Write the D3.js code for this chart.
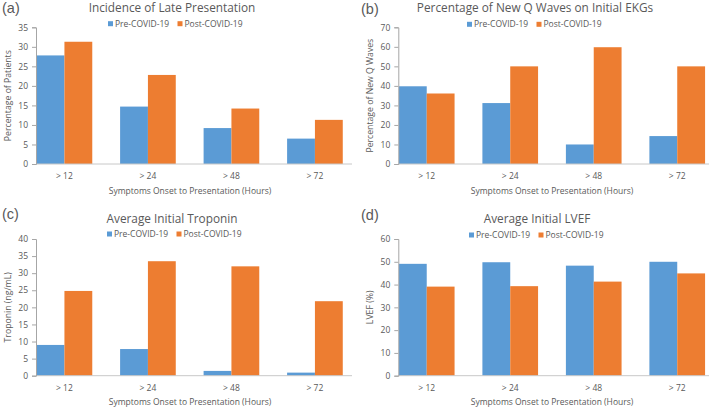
<!DOCTYPE html>
<html>
<head>
<meta charset="utf-8">
<script src="https://cdn.jsdelivr.net/npm/d3@7"></script>
<style>
  html, body { margin: 0; padding: 0; background: #fff; }
  svg text { font-family: "Open Sans", Lato, sans-serif; fill: #595959; }
</style>
</head>
<body>
<svg id="chart" width="709" height="409"></svg>
<script>
const categories = ["> 12", "> 24", "> 48", "> 72"];
const seriesNames = ["Pre-COVID-19", "Post-COVID-19"];
const seriesColors = ["#5B9BD5", "#ED7D31"];

const latePre = [27.8, 14.7, 9.2, 6.5];
const latePost = [31.3, 22.8, 14.2, 11.3];
const qWavePre = [39.8, 31.2, 10.0, 14.3];
const qWavePost = [36.1, 50.0, 59.8, 50.0];
const troponinPre = [9.0, 7.8, 1.4, 0.9];
const troponinPost = [24.8, 33.5, 32.0, 21.8];
const lvefPre = [49.1, 49.8, 48.3, 50.0];
const lvefPost = [39.1, 39.3, 41.3, 44.9];

const ticksA = [0, 5, 10, 15, 20, 25, 30, 35];
const ticksB = [0, 10, 20, 30, 40, 50, 60, 70];
const ticksC = [0, 5, 10, 15, 20, 25, 30, 35, 40];
const ticksD = [0, 10, 20, 30, 40, 50, 60];

const xTitle = "Symptoms Onset to Presentation (Hours)";

const panels = [
  { tag: "(a)", title: "Incidence of Late Presentation", yLabel: "Percentage of Patients",
    pre: latePre, post: latePost, ticks: ticksA,
    axisX: 36, yTop: 27.3, yBase: 164,
    titleX: 172, legendX: 108, legendY: 23.7, tagX: 2, tagY: 12.5,
    xTitleX: 190, yLabelX: 8, lineEnd: 352 },
  { tag: "(b)", title: "Percentage of New Q Waves on Initial EKGs", yLabel: "Percentage of New Q Waves",
    pre: qWavePre, post: qWavePost, ticks: ticksB,
    axisX: 398.3, yTop: 27.3, yBase: 164,
    titleX: 535, legendX: 467, legendY: 24.3, tagX: 361, tagY: 13.5,
    xTitleX: 552, yLabelX: 370, lineEnd: 709 },
  { tag: "(c)", title: "Average Initial Troponin", yLabel: "Troponin (ng/mL)",
    pre: troponinPre, post: troponinPost, ticks: ticksC,
    axisX: 36, yTop: 239, yBase: 375.7,
    titleX: 172, legendX: 107, legendY: 234, tagX: 2, tagY: 219,
    xTitleX: 190, yLabelX: 8, lineEnd: 352 },
  { tag: "(d)", title: "Average Initial LVEF", yLabel: "LVEF (%)",
    pre: lvefPre, post: lvefPost, ticks: ticksD,
    axisX: 398.3, yTop: 239, yBase: 375.7,
    titleX: 537, legendX: 469, legendY: 235, tagX: 361, tagY: 219.5,
    xTitleX: 552, yLabelX: 370, lineEnd: 709 }
];

const svg = d3.select("#chart");

panels.forEach(p => {
  const g = svg.append("g");
  const y = d3.scaleLinear()
    .domain([0, d3.max(p.ticks)])
    .range([p.yBase, p.yTop]);
  const start = p.axisX + 0.6 - 83.5 / 6;
  const x = d3.scaleBand()
    .domain(categories)
    .range([start, start + 334])
    .paddingInner(1 / 3)
    .paddingOuter(1 / 6);
  const xs = d3.scaleBand()
    .domain(seriesNames)
    .range([0, x.bandwidth()]);

  const rows = categories.map((c, i) => ({ cat: c, values: [p.pre[i], p.post[i]] }));

  // bars
  const grp = g.selectAll("g.cat").data(rows).join("g")
    .attr("class", "cat")
    .attr("transform", d => `translate(${x(d.cat)},0)`);
  grp.selectAll("rect")
    .data(d => d.values.map((v, k) => ({ name: seriesNames[k], v, k })))
    .join("rect")
    .attr("x", d => xs(d.name))
    .attr("width", xs.bandwidth())
    .attr("y", d => y(d.v))
    .attr("height", d => y(0) - y(d.v))
    .attr("fill", d => seriesColors[d.k]);

  // x baseline
  g.append("line")
    .attr("x1", p.axisX).attr("x2", p.lineEnd)
    .attr("y1", y(0)).attr("y2", y(0))
    .attr("stroke", "#c8c8c8").attr("stroke-width", 1);

  // y axis
  const yAxis = d3.axisLeft(y).tickValues(p.ticks).tickSize(4).tickPadding(4).tickFormat(d3.format("d"));
  const ya = g.append("g").attr("transform", `translate(${p.axisX},0)`).call(yAxis);
  ya.select(".domain").attr("stroke", "#a6a6a6");
  ya.selectAll(".tick line").attr("stroke", "#a6a6a6");
  ya.selectAll(".tick text").attr("font-size", 8.5).attr("fill", "#595959")
    .style("font-family", "'Open Sans', Lato, sans-serif");

  // x tick labels
  g.selectAll("text.xlab").data(categories).join("text")
    .attr("class", "xlab")
    .attr("x", d => x(d) + x.bandwidth() / 2)
    .attr("y", p.yBase + 15)
    .attr("text-anchor", "middle")
    .attr("font-size", 8.5)
    .text(d => d);

  // x title
  g.append("text")
    .attr("x", p.xTitleX)
    .attr("y", p.yBase + 29.5)
    .attr("text-anchor", "middle")
    .attr("font-size", 8.5)
    .text(xTitle);

  // y title
  g.append("text")
    .attr("transform", `translate(${p.yLabelX},${(p.yTop + p.yBase) / 2}) rotate(-90)`)
    .attr("text-anchor", "middle")
    .attr("dy", "0.35em")
    .attr("font-size", 8.7)
    .text(p.yLabel);

  // chart title
  g.append("text")
    .attr("x", p.titleX)
    .attr("y", p.yTop - 15.7)
    .attr("text-anchor", "middle")
    .attr("font-size", 11.8)
    .text(p.title);

  // panel tag
  g.append("text")
    .attr("x", p.tagX)
    .attr("y", p.tagY)
    .attr("font-size", 14.5)
    .style("font-family", "'Liberation Sans', Arial, sans-serif")
    .attr("fill", "#333")
    .text(p.tag);

  // legend
  const lg = g.append("g").attr("transform", `translate(${p.legendX},${p.legendY})`);
  const items = lg.selectAll("g").data(seriesNames).join("g")
    .attr("transform", (d, i) => `translate(${i * 69.5},0)`);
  items.append("rect")
    .attr("x", 0).attr("y", -2.5).attr("width", 5).attr("height", 5)
    .attr("fill", (d, i) => seriesColors[i]);
  items.append("text")
    .attr("x", 7).attr("y", 0).attr("dy", "0.35em")
    .attr("font-size", 8.5)
    .text(d => d);
});
</script>
</body>
</html>
